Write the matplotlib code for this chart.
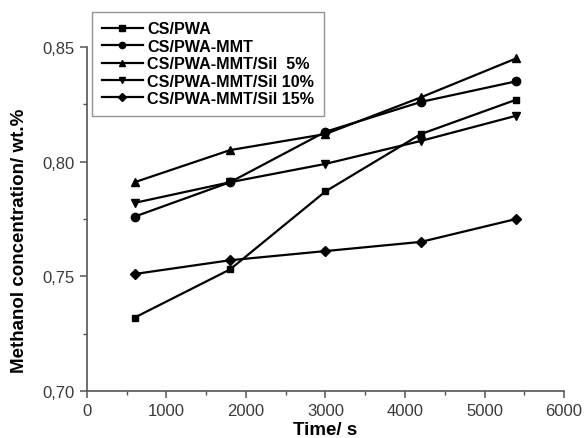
import matplotlib
matplotlib.use("Agg")
import matplotlib.pyplot as plt
from matplotlib.ticker import MultipleLocator, FuncFormatter

plt.rcParams['font.family'] = ['Liberation Sans', 'DejaVu Sans']

time_s = [600, 1800, 3000, 4200, 5400]
cs_pwa = [0.732, 0.753, 0.787, 0.812, 0.827]
cs_pwa_mmt = [0.776, 0.791, 0.813, 0.826, 0.835]
sil_5 = [0.791, 0.805, 0.812, 0.828, 0.845]
sil_10 = [0.782, 0.791, 0.799, 0.809, 0.820]
sil_15 = [0.751, 0.757, 0.761, 0.765, 0.775]

labels = ["CS/PWA", "CS/PWA-MMT", "CS/PWA-MMT/Sil  5%",
          "CS/PWA-MMT/Sil 10%", "CS/PWA-MMT/Sil 15%"]
series = [cs_pwa, cs_pwa_mmt, sil_5, sil_10, sil_15]
markers = ['s', 'o', '^', 'v', 'D']
msizes = [5, 6, 6, 6, 5.5]

fig = plt.figure(figsize=(5.87, 4.39), dpi=100)
ax = fig.add_axes([0.148, 0.107, 0.813, 0.784])

for y, lab, m, ms in zip(series, labels, markers, msizes):
    ax.plot(time_s, y, color='black', lw=1.6, marker=m, ms=ms, label=lab)

ax.set_xlim(0, 6000)
ax.set_ylim(0.70, 0.85)
ax.xaxis.set_major_locator(MultipleLocator(1000))
ax.xaxis.set_minor_locator(MultipleLocator(500))
ax.yaxis.set_major_locator(MultipleLocator(0.05))
ax.yaxis.set_minor_locator(MultipleLocator(0.025))
ax.yaxis.set_major_formatter(FuncFormatter(lambda v, p: f"{v:.2f}".replace('.', ',')))

for s in ['top', 'right']:
    ax.spines[s].set_visible(False)
for s in ['left', 'bottom']:
    ax.spines[s].set_color('#555555')
    ax.spines[s].set_linewidth(1.2)
ax.tick_params(which='major', direction='out', length=5, width=1.1, color='#555555',
               labelsize=12, labelcolor='#3a3a3a')
ax.tick_params(which='minor', direction='out', length=3, width=1.0, color='#555555')

ax.set_xlabel("Time/ s", fontsize=13.5, fontweight='bold', labelpad=2)
ax.set_ylabel("Methanol concentration/ wt.%", fontsize=13.5, fontweight='bold')
ax.yaxis.set_label_coords(-0.124, 0.44)

leg = ax.legend(loc='upper left', bbox_to_anchor=(0.0105, 1.102), borderaxespad=0,
                frameon=True, fancybox=False, edgecolor='#777777', handlelength=2.6,
                handletextpad=0.25, borderpad=0.6, labelspacing=0.15,
                prop={'weight': 'bold', 'size': 11.6})
leg.get_frame().set_linewidth(1.0)
for h in leg.legend_handles:
    h.set_markersize(4.5)

fig.savefig("out.png", dpi=100)
